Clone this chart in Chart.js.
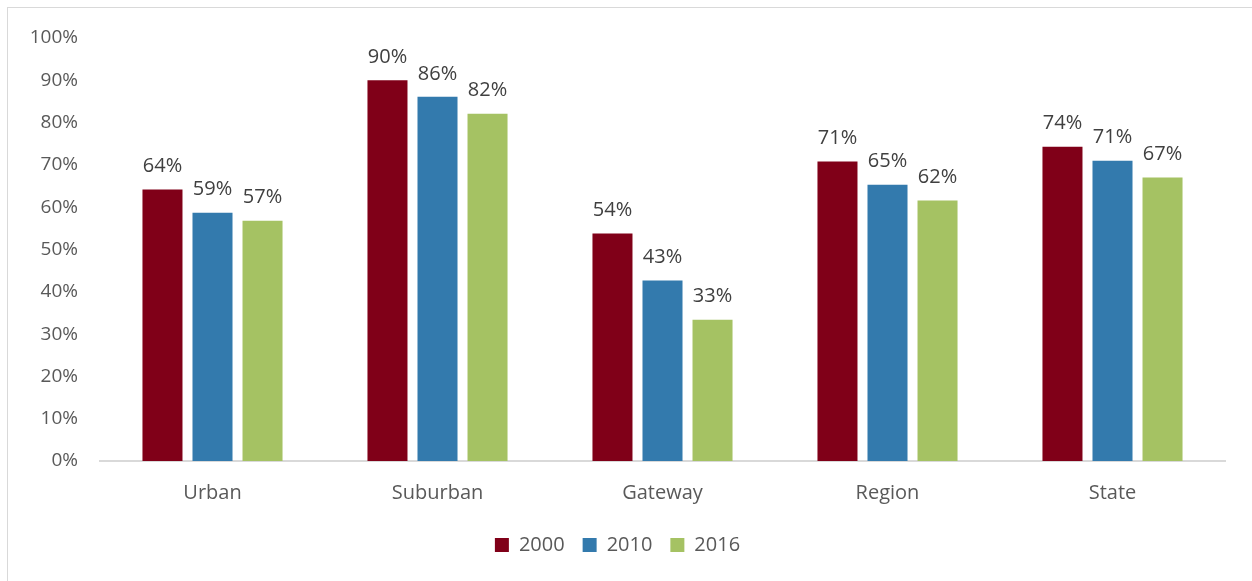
<!DOCTYPE html>
<html>
<head>
<meta charset="utf-8">
<script src="https://cdn.jsdelivr.net/npm/chart.js@4/dist/chart.umd.min.js"></script>
<style>
  html, body { margin: 0; padding: 0; background: #fff; overflow: hidden; }
  #frame { position: absolute; left: 7px; top: 7px; width: 1300px; height: 620px;
           border-left: 1px solid #d9d9d9; border-top: 1px solid #d9d9d9; }
  #wrap { position: absolute; left: 0; top: 0; width: 1252px; height: 581px; }
</style>
</head>
<body>
<div id="frame"></div>
<div id="wrap"><canvas id="chart"></canvas></div>
<script>
// categories and series
const categories = ['Urban', 'Suburban', 'Gateway', 'Region', 'State'];
const years = ['2000', '2010', '2016'];
const values2000 = [0.642, 0.900, 0.538, 0.708, 0.743];
const values2010 = [0.587, 0.861, 0.427, 0.653, 0.710];
const values2016 = [0.568, 0.821, 0.334, 0.616, 0.670];
const yTicks = [0, 0.1, 0.2, 0.3, 0.4, 0.5, 0.6, 0.7, 0.8, 0.9, 1.0];

const COLORS = ['#800018', '#337aad', '#a5c263'];
const FONT = 'Open Sans';

const pct = v => Math.round(v * 100) + '%';

// draws the value labels above each bar
const barLabels = {
    id: 'barLabels',
    afterDatasetsDraw(chart) {
        const ctx = chart.ctx;
        ctx.save();
        ctx.font = '20px "' + FONT + '"';
        ctx.fillStyle = '#404040';
        ctx.textAlign = 'center';
        ctx.textBaseline = 'bottom';
        chart.data.datasets.forEach((ds, i) => {
            chart.getDatasetMeta(i).data.forEach((bar, j) => {
                ctx.fillText(pct(ds.data[j]), bar.x, bar.y - 13);
            });
        });
        ctx.restore();
    }
};

new Chart(document.getElementById('chart'), {
    type: 'bar',
    data: {
        labels: categories,
        datasets: [
            { label: years[0], data: values2000, backgroundColor: COLORS[0] },
            { label: years[1], data: values2010, backgroundColor: COLORS[1] },
            { label: years[2], data: values2016, backgroundColor: COLORS[2] }
        ]
    },
    options: {
        responsive: true,
        maintainAspectRatio: false,
        animation: false,
        categoryPercentage: 0.667,
        barPercentage: 0.8,
        layout: { padding: { left: 10, right: 27, top: 38, bottom: 16 } },
        scales: {
            x: {
                grid: { display: false },
                border: { color: '#d9d9d9', width: 2 },
                ticks: { color: '#595959', font: { family: FONT, size: 20 }, padding: 12 }
            },
            y: {
                min: 0,
                max: 1,
                afterBuildTicks(axis) { axis.ticks = yTicks.map(v => ({ value: v })); },
                afterFit(axis) { axis.width = 90; },
                grid: { display: false },
                border: { display: false },
                ticks: {
                    color: '#595959',
                    font: { family: FONT, size: 19 },
                    padding: 14,
                    callback: v => pct(v)
                }
            }
        },
        plugins: {
            legend: {
                position: 'bottom',
                labels: {
                    boxWidth: 14,
                    boxHeight: 14,
                    color: '#595959',
                    font: { family: FONT, size: 20 },
                    padding: 18
                }
            },
            tooltip: { enabled: false }
        }
    },
    plugins: [barLabels]
});
</script>
</body>
</html>
